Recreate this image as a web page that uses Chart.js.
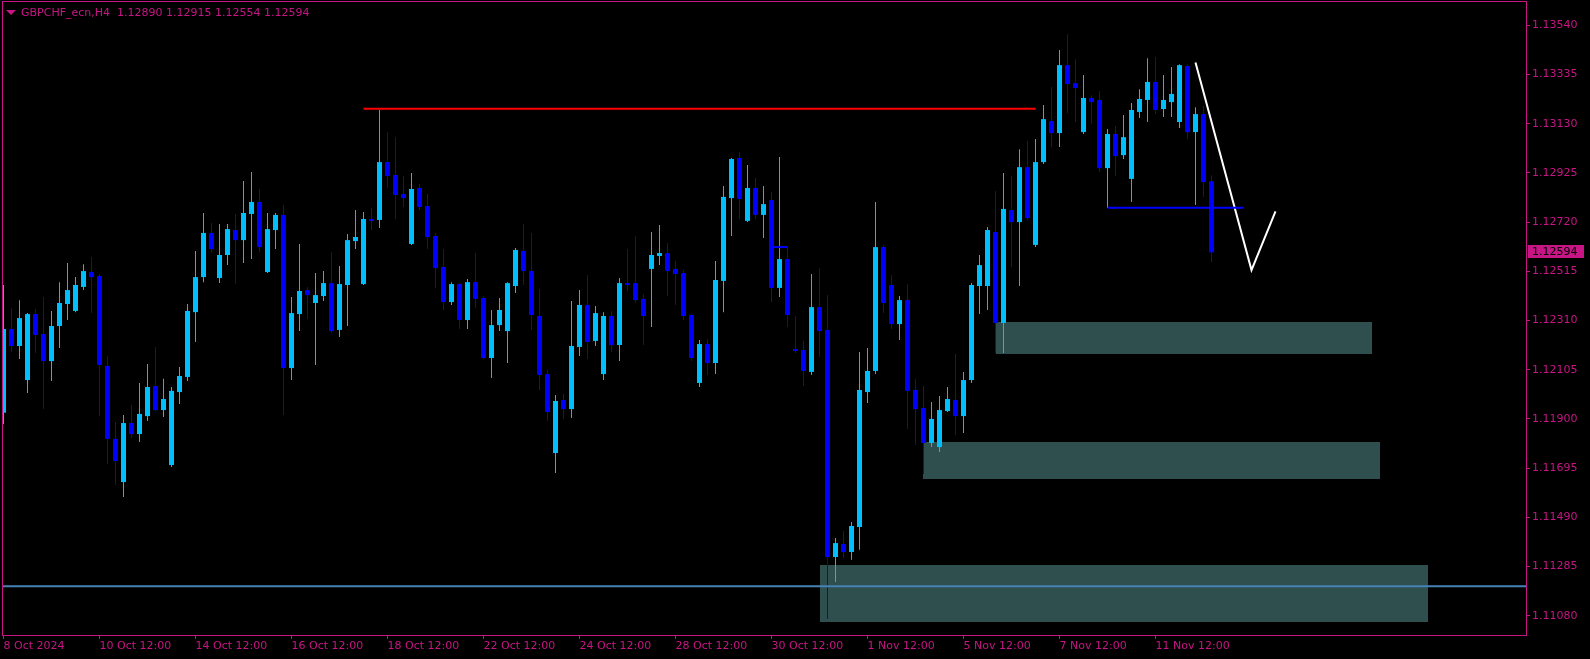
<!DOCTYPE html>
<html>
<head>
<meta charset="utf-8">
<script src="https://cdn.jsdelivr.net/npm/chart.js@4.4.1/dist/chart.umd.min.js"></script>
<style>
  html, body { margin: 0; padding: 0; background: #000; }
  #wrap { width: 1590px; height: 659px; }
</style>
</head>
<body>
<div id="wrap"><canvas id="chart" width="1590" height="659"></canvas></div>
<script>
const symbol = "GBPCHF_ecn,H4";

// H4 candles, one value per bar
const opens = [1.11926,1.12275,1.12204,1.12062,1.12337,1.12254,1.12141,1.12287,1.12379,1.12350,
  1.12450,1.12512,1.12495,1.12121,1.11817,1.11637,1.11883,1.11837,1.11912,1.12037,
  1.11937,1.11708,1.12012,1.12075,1.12345,1.12491,1.12675,1.12487,1.12583,1.12687,
  1.12645,1.12754,1.12804,1.12512,1.12687,1.12750,1.12112,1.12337,1.12437,1.12383,
  1.12412,1.12466,1.12271,1.12458,1.12641,1.12462,1.12733,1.12729,1.12970,1.12916,
  1.12837,1.12629,1.12862,1.12787,1.12662,1.12533,1.12387,1.12462,1.12312,1.12470,
  1.12404,1.12154,1.12291,1.12266,1.12454,1.12600,1.12516,1.12329,1.12087,1.11758,
  1.11979,1.11941,1.12200,1.12375,1.12225,1.12087,1.12329,1.12208,1.12466,1.12466,
  1.12400,1.12525,1.12579,1.12591,1.12525,1.12508,1.12333,1.12050,1.12212,1.12133,
  1.12475,1.12820,1.12987,1.12725,1.12862,1.12750,1.12812,1.12446,1.12566,1.12191,
  1.12187,1.12096,1.12366,1.12271,1.11325,1.11379,1.11346,1.11450,1.12012,1.12100,
  1.12616,1.12458,1.12295,1.12395,1.12021,1.11946,1.11800,1.11783,1.11933,1.11979,
  1.11912,1.12062,1.12454,1.12454,1.12679,1.12300,1.12770,1.12720,1.12949,1.12625,
  1.12970,1.13141,1.13091,1.13374,1.13299,1.13095,1.13237,1.13229,1.12945,1.13087,
  1.12999,1.12900,1.13179,1.13229,1.13304,1.13191,1.13220,1.13137,1.13370,1.13095,
  1.13170,1.12890];
const highs = [1.12458,1.12362,1.12395,1.12341,1.12358,1.12408,1.12350,1.12470,1.12550,1.12491,
  1.12545,1.12575,1.12504,1.12162,1.11887,1.11916,1.11958,1.12050,1.12129,1.12200,
  1.12067,1.12033,1.12116,1.12379,1.12600,1.12758,1.12716,1.12712,1.12712,1.12754,
  1.12891,1.12929,1.12858,1.12758,1.12758,1.12791,1.12408,1.12629,1.12450,1.12508,
  1.12516,1.12595,1.12537,1.12670,1.12770,1.12762,1.12779,1.13187,1.13095,1.13074,
  1.12912,1.12925,1.12879,1.12837,1.12675,1.12608,1.12470,1.12466,1.12483,1.12591,
  1.12412,1.12354,1.12404,1.12470,1.12612,1.12712,1.12675,1.12441,1.12104,1.12000,
  1.12004,1.12391,1.12437,1.12500,1.12371,1.12345,1.12350,1.12487,1.12608,1.12662,
  1.12420,1.12679,1.12708,1.12633,1.12558,1.12520,1.12337,1.12229,1.12233,1.12558,
  1.12870,1.12987,1.13012,1.12958,1.12904,1.12870,1.12845,1.12991,1.12616,1.12329,
  1.12225,1.12504,1.12529,1.12416,1.11404,1.11433,1.11471,1.12179,1.12196,1.12804,
  1.12625,1.12500,1.12412,1.12462,1.12067,1.12037,1.11971,1.11996,1.12033,1.12171,
  1.12096,1.12466,1.12583,1.12700,1.12850,1.12925,1.12912,1.13024,1.13058,1.13066,
  1.13208,1.13283,1.13437,1.13503,1.13399,1.13333,1.13249,1.13266,1.13108,1.13120,
  1.13166,1.13216,1.13274,1.13403,1.13408,1.13333,1.13366,1.13378,1.13378,1.13199,
  1.13204,1.12915];
const lows = [1.11879,1.12179,1.12150,1.12008,1.12175,1.11941,1.12058,1.12196,1.12312,1.12345,
  1.12437,1.12341,1.11912,1.11712,1.11625,1.11575,1.11821,1.11804,1.11892,1.11933,
  1.11908,1.11700,1.11962,1.12058,1.12221,1.12470,1.12595,1.12466,1.12541,1.12462,
  1.12550,1.12566,1.12595,1.12508,1.12608,1.11916,1.12062,1.12266,1.12316,1.12125,
  1.12391,1.12258,1.12241,1.12287,1.12608,1.12458,1.12687,1.12695,1.12862,1.12733,
  1.12783,1.12625,1.12770,1.12608,1.12446,1.12354,1.12375,1.12275,1.12275,1.12362,
  1.12150,1.12071,1.12266,1.12133,1.12425,1.12458,1.12271,1.12021,1.11892,1.11675,
  1.11900,1.11904,1.12162,1.12150,1.12204,1.12062,1.12179,1.12141,1.12433,1.12383,
  1.12208,1.12283,1.12541,1.12412,1.12375,1.12312,1.12141,1.12033,1.12083,1.12087,
  1.12345,1.12662,1.12733,1.12720,1.12733,1.12654,1.12387,1.12408,1.12283,1.12175,
  1.12037,1.12083,1.12158,1.11067,1.11221,1.11321,1.11313,1.11355,1.11966,1.12087,
  1.12341,1.12275,1.12229,1.11858,1.11792,1.11671,1.11783,1.11762,1.11929,1.11833,
  1.11842,1.12050,1.12337,1.12354,1.12175,1.12175,1.12533,1.12454,1.12729,1.12616,
  1.12962,1.13033,1.13033,1.13174,1.13137,1.13087,1.13129,1.12929,1.12779,1.12912,
  1.12983,1.12804,1.13154,1.13137,1.13170,1.13158,1.13158,1.13112,1.13066,1.12791,
  1.12825,1.12554];
const closes = [1.12275,1.12204,1.12320,1.12337,1.12250,1.12141,1.12287,1.12383,1.12437,1.12458,
  1.12516,1.12491,1.12125,1.11817,1.11725,1.11883,1.11837,1.11921,1.12033,1.11937,
  1.11983,1.12017,1.12079,1.12350,1.12491,1.12675,1.12608,1.12583,1.12691,1.12645,
  1.12758,1.12804,1.12616,1.12691,1.12750,1.12112,1.12341,1.12433,1.12416,1.12416,
  1.12466,1.12266,1.12462,1.12645,1.12658,1.12733,1.12725,1.12970,1.12912,1.12833,
  1.12820,1.12858,1.12783,1.12658,1.12529,1.12387,1.12462,1.12312,1.12470,1.12400,
  1.12154,1.12291,1.12354,1.12466,1.12604,1.12516,1.12333,1.12083,1.11929,1.11975,
  1.11941,1.12204,1.12375,1.12221,1.12341,1.12329,1.12208,1.12466,1.12458,1.12395,
  1.12329,1.12583,1.12591,1.12516,1.12504,1.12329,1.12154,1.12212,1.12133,1.12479,
  1.12825,1.12983,1.12816,1.12862,1.12750,1.12795,1.12446,1.12566,1.12333,1.12183,
  1.12100,1.12366,1.12266,1.11325,1.11383,1.11346,1.11454,1.12021,1.12100,1.12616,
  1.12383,1.12295,1.12395,1.12017,1.11941,1.11800,1.11900,1.11937,1.11983,1.11912,
  1.12062,1.12458,1.12541,1.12687,1.12300,1.12775,1.12720,1.12949,1.12737,1.12970,
  1.13149,1.13091,1.13374,1.13295,1.13279,1.13237,1.13220,1.12945,1.13087,1.12995,
  1.13074,1.13187,1.13233,1.13304,1.13187,1.13229,1.13254,1.13374,1.13095,1.13170,
  1.12887,1.12594];

// time axis: bar index of each label
const timeTicks = [0, 12, 24, 36, 48, 60, 72, 84, 96, 108, 120, 132, 144];
const timeLabels = ["8 Oct 2024", "10 Oct 12:00", "14 Oct 12:00", "16 Oct 12:00", "18 Oct 12:00",
  "22 Oct 12:00", "24 Oct 12:00", "28 Oct 12:00", "30 Oct 12:00", "1 Nov 12:00",
  "5 Nov 12:00", "7 Nov 12:00", "11 Nov 12:00"];
const priceTicks = [1.11080, 1.11285, 1.11490, 1.11695, 1.11900, 1.12105, 1.12310,
  1.12515, 1.12720, 1.12925, 1.13130, 1.13335, 1.13540];

// drawn objects
const zoneStart = [124, 115, 102];
const zoneEnd = [171, 172, 178];
const zoneHigh = [1.12304, 1.11805, 1.11292];
const zoneLow = [1.12171, 1.11651, 1.11054];
const resistance = [{ x: 45, y: 1.13192 }, { x: 129, y: 1.13192 }];
const supportLine = [{ x: 138, y: 1.12780 }, { x: 155, y: 1.12780 }];
const smallMark = [{ x: 96.3, y: 1.12616 }, { x: 98, y: 1.12616 }];
const levelLine = [{ x: -5, y: 1.11203 }, { x: 200, y: 1.11203 }];
const forecast = [{ x: 149, y: 1.13385 }, { x: 156, y: 1.12520 }, { x: 159, y: 1.12765 }];

const magenta = "#c71585";
const bullColor = "#00bfff";
const bearColor = "#0000ff";
Chart.defaults.font.family = "'DejaVu Sans', sans-serif";
Chart.defaults.font.size = 11;

const bars = opens.map((o, i) => i);
const candleColors = bars.map(i => closes[i] >= opens[i] ? bullColor : bearColor);
const last = closes.length - 1;

const zonesPlugin = {
    id: "zones",
    beforeDatasetsDraw(chart) {
        const { ctx, chartArea, scales: { x, y } } = chart;
        ctx.save();
        ctx.beginPath();
        ctx.rect(chartArea.left, chartArea.top, chartArea.right - chartArea.left, chartArea.bottom - chartArea.top);
        ctx.clip();
        ctx.fillStyle = "#2f4f4f";
        for (let i = 0; i < zoneStart.length; i++) {
            const x0 = Math.round(x.getPixelForValue(zoneStart[i]));
            const x1 = Math.round(x.getPixelForValue(zoneEnd[i]));
            const y0 = Math.round(y.getPixelForValue(zoneHigh[i]));
            const y1 = Math.round(y.getPixelForValue(zoneLow[i]));
            ctx.fillRect(x0, y0, x1 - x0, y1 - y0);
        }
        ctx.restore();
    }
};

const framePlugin = {
    id: "frame",
    afterDraw(chart) {
        const { ctx, chartArea, scales: { y } } = chart;
        ctx.save();
        ctx.strokeStyle = magenta;
        ctx.lineWidth = 1;
        ctx.strokeRect(chartArea.left + 0.5, chartArea.top - 0.5,
            chartArea.right - chartArea.left, chartArea.bottom - chartArea.top + 1);

        // header
        ctx.fillStyle = magenta;
        ctx.beginPath();
        ctx.moveTo(6, 10);
        ctx.lineTo(16, 10);
        ctx.lineTo(11, 15);
        ctx.closePath();
        ctx.fill();
        ctx.font = "11px 'DejaVu Sans', sans-serif";
        ctx.textBaseline = "middle";
        ctx.textAlign = "left";
        const ohlc = [opens[last], highs[last], lows[last], closes[last]].map(v => v.toFixed(5)).join(" ");
        ctx.fillText(symbol + "  " + ohlc, 21, 13);

        // last price box
        const py = Math.round(y.getPixelForValue(closes[last]));
        ctx.fillRect(chartArea.right + 2, py - 7, 56, 13);
        ctx.fillStyle = "#000";
        ctx.fillText(closes[last].toFixed(5), chartArea.right + 6, py);
        ctx.restore();
    }
};

new Chart(document.getElementById("chart"), {
    type: "bar",
    data: {
        datasets: [
            { type: "line", data: levelLine, borderColor: "#4682b4", borderWidth: 2, pointRadius: 0, order: 0 },
            { type: "line", data: resistance, borderColor: "#ff0000", borderWidth: 2, pointRadius: 0, order: 0 },
            { type: "line", data: supportLine, borderColor: "#0000ff", borderWidth: 2, pointRadius: 0, order: 0 },
            { type: "line", data: smallMark, borderColor: "#0000ff", borderWidth: 2, pointRadius: 0, order: 0 },
            { type: "line", data: forecast, borderColor: "#ffffff", borderWidth: 2, pointRadius: 0, order: 0 },
            {
                data: bars.map(i => ({ x: i, y: [opens[i], closes[i]] })),
                backgroundColor: candleColors,
                barThickness: 5,
                minBarLength: 1,
                grouped: false,
                inflateAmount: 0,
                borderWidth: 0,
                order: 1
            },
            {
                data: bars.map(i => ({ x: i, y: [lows[i], highs[i]] })),
                backgroundColor: candleColors,
                barThickness: 1,
                grouped: false,
                inflateAmount: 0,
                borderWidth: 0,
                order: 2
            }
        ]
    },
    options: {
        responsive: false,
        animation: false,
        events: [],
        layout: { padding: { left: 2, top: 2, right: 0, bottom: 0 }, autoPadding: false },
        plugins: { legend: { display: false }, tooltip: { enabled: false } },
        scales: {
            x: {
                type: "linear",
                min: -0.1875,
                max: 190.3125,
                offset: false,
                grid: { offset: false, drawOnChartArea: false, drawTicks: true, tickLength: 4, color: magenta },
                border: { display: false },
                ticks: {
                    autoSkip: false,
                    maxRotation: 0,
                    align: "start",
                    padding: 1,
                    color: magenta,
                    callback: (v, i) => timeLabels[i]
                },
                afterBuildTicks: scale => { scale.ticks = timeTicks.map(v => ({ value: v })); },
                afterFit: scale => {
                    scale.height = 24;
                    scale.paddingLeft = 0; scale.paddingRight = 0;
                }
            },
            y: {
                position: "right",
                min: 1.11000,
                max: 1.13637,
                grid: { drawOnChartArea: false, drawTicks: true, tickLength: 4, color: magenta },
                border: { display: false },
                ticks: {
                    padding: 2,
                    color: magenta,
                    callback: v => v.toFixed(5)
                },
                afterBuildTicks: scale => { scale.ticks = priceTicks.map(v => ({ value: v })); },
                afterFit: scale => {
                    scale.width = 64;
                    scale.paddingTop = 0; scale.paddingBottom = 0;
                }
            }
        }
    },
    plugins: [zonesPlugin, framePlugin]
});
</script>
</body>
</html>
